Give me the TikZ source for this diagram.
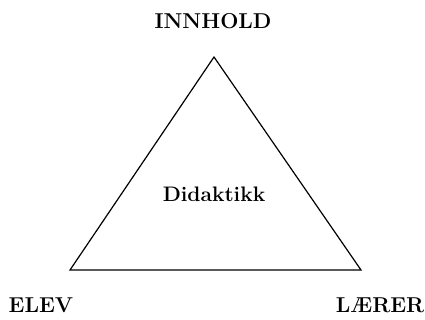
\documentclass[tikz,border=0pt]{standalone}
\usetikzlibrary{positioning}
\tikzset{
    corner/.style={font=\fontsize{21.5}{25}\selectfont\bfseries, inner sep=0pt},
    centre/.style={font=\fontsize{21}{25}\selectfont\bfseries, inner sep=0pt}
}
\begin{document}
\begin{tikzpicture}[x=1pt, y=-1pt]
    \useasboundingbox (0,0) rectangle (425,320);

    % Triangle
    \coordinate (top) at (214,57);
    \coordinate (left) at (70,270);
    \coordinate (right) at (361,270);
    \draw[line width=1.2pt, line join=miter] (top) -- (left) -- (right) -- cycle;

    % Labels
    \node[corner] (innhold) at (213,21) {INNHOLD};
    \node[corner] (elev) at (41,305) {ELEV};
    \node[corner] (laerer) at (380,305) {L\AE RER};
    \node[centre] (didaktikk) at (214,194) {Didaktikk};
\end{tikzpicture}
\end{document}
